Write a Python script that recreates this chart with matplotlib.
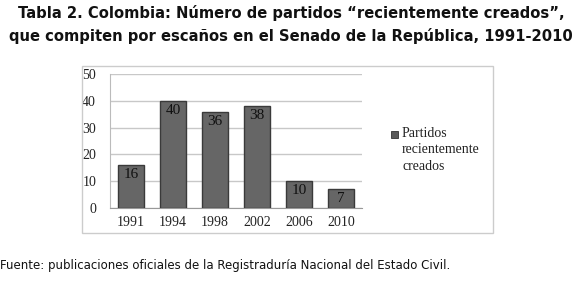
import matplotlib.pyplot as plt
from matplotlib.patches import Rectangle

years = ['1991', '1994', '1998', '2002', '2006', '2010']
partidos = [16, 40, 36, 38, 10, 7]
yticks = [0, 10, 20, 30, 40, 50]

title = ('Tabla 2. Colombia: Número de partidos “recientemente creados”,\n'
         'que compiten por escaños en el Senado de la República, 1991-2010')
fuente = 'Fuente: publicaciones oficiales de la Registraduría Nacional del Estado Civil.'

W, H = 580, 287
fig = plt.figure(figsize=(W / 100, H / 100), dpi=100)

fig.text(291 / W, 1 - 5 / H, title, ha='center', va='top', fontsize=10.6,
         fontweight='bold', family='DejaVu Sans', linespacing=1.55, color='#111111')

# outer chart frame
fig.patches.append(Rectangle((82 / W, 1 - 233 / H), 411 / W, 167 / H,
                             transform=fig.transFigure, fill=False,
                             edgecolor='#cccccc', linewidth=1.0))

ax = fig.add_axes([110 / W, 1 - 208 / H, 252 / W, 134 / H])
x = range(len(years))
bars = ax.bar(x, partidos, width=0.6, color='#666666', edgecolor='#3a3a3a',
              linewidth=1.0, zorder=3)
for b, v in zip(bars, partidos):
    ax.text(b.get_x() + b.get_width() / 2, v - 1.2, str(v), ha='center', va='top',
            fontsize=11, family='Liberation Serif', color='#111111', zorder=4)

ax.set_xlim(-0.5, len(years) - 0.5)
ax.set_ylim(0, 50)
ax.set_yticks(yticks)
ax.set_yticklabels([str(t) for t in yticks], family='Liberation Serif', fontsize=10)
ax.set_xticks(list(x))
ax.set_xticklabels(years, family='Liberation Serif', fontsize=10)
ax.tick_params(length=0, pad=10, colors='#222222')
ax.tick_params(axis='x', pad=6)
ax.grid(axis='y', color='#c8c8c8', linewidth=1.0, zorder=0)
for s in ['top', 'right']:
    ax.spines[s].set_visible(False)
ax.spines['left'].set_color('#bbbbbb')
ax.spines['bottom'].set_color('#999999')

# legend
fig.patches.append(Rectangle((391 / W, 1 - 138 / H), 7 / W, 7 / H,
                             transform=fig.transFigure, facecolor='#5a5a5a',
                             edgecolor='#333333', linewidth=0.6))
fig.text(402 / W, 1 - 127 / H, 'Partidos\nrecientemente\ncreados', ha='left', va='top',
         fontsize=10, family='Liberation Serif', linespacing=1.35, color='#222222')

fig.text(0 / W, 1 - 265 / H, fuente, ha='left', va='center', fontsize=8.5,
         family='DejaVu Sans', color='#111111')

fig.savefig('out.png', dpi=100)
